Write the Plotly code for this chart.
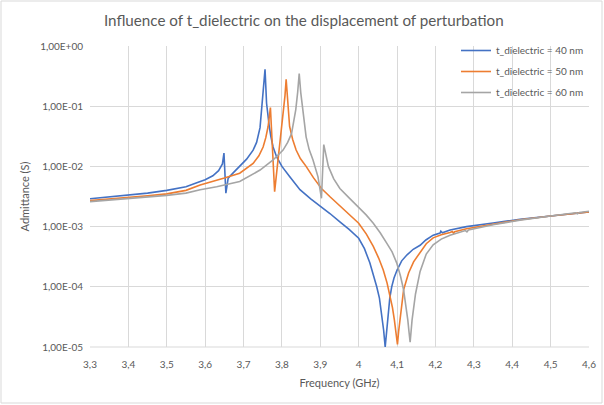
import plotly.graph_objects as go

# ---------------- data ----------------
freq_40 = [3.30, 3.35, 3.40, 3.45, 3.50, 3.55, 3.58, 3.60, 3.62, 3.635, 3.645, 3.649,
           3.654, 3.660, 3.673, 3.690, 3.708, 3.725, 3.734, 3.743, 3.749, 3.753, 3.756,
           3.760, 3.763, 3.767, 3.771, 3.777, 3.786, 3.800, 3.820, 3.847, 3.875, 3.903,
           3.925, 3.951, 3.975, 4.000, 4.015, 4.029, 4.038, 4.047, 4.054, 4.060, 4.065,
           4.069, 4.073, 4.077, 4.081, 4.086, 4.092, 4.100, 4.112, 4.126, 4.142, 4.160,
           4.175, 4.194, 4.212, 4.214, 4.218, 4.238, 4.281, 4.35, 4.42, 4.50, 4.55, 4.60]
adm_40 = [2.9e-3, 3.1e-3, 3.3e-3, 3.6e-3, 4.0e-3, 4.6e-3, 5.4e-3, 6.0e-3, 7.0e-3, 8.5e-3,
          0.011, 0.0166, 3.6e-3, 6.4e-3, 7.8e-3, 0.010, 0.0132, 0.0186, 0.025, 0.044,
          0.112, 0.22, 0.41, 0.112, 0.07, 0.046, 0.032, 0.021, 0.0145, 0.010, 6.8e-3,
          4.1e-3, 2.9e-3, 2.14e-3, 1.65e-3, 1.2e-3, 9.0e-4, 6.4e-4, 4.3e-4, 2.5e-4,
          1.6e-4, 1.0e-4, 6.5e-5, 3.6e-5, 1.9e-5, 1.0e-5, 2.0e-5, 3.6e-5, 6.5e-5, 1.0e-4,
          1.4e-4, 1.9e-4, 2.7e-4, 3.4e-4, 4.2e-4, 4.9e-4, 6.0e-4, 7.2e-4, 7.8e-4, 8.4e-4,
          7.9e-4, 8.8e-4, 1.0e-3, 1.15e-3, 1.32e-3, 1.5e-3, 1.62e-3, 1.75e-3]

freq_50 = [3.30, 3.35, 3.40, 3.45, 3.50, 3.55, 3.587, 3.62, 3.65, 3.690, 3.725, 3.740,
           3.751, 3.758, 3.764, 3.770, 3.775, 3.781, 3.788, 3.795, 3.800, 3.805, 3.808,
           3.811, 3.815, 3.820, 3.828, 3.837, 3.848, 3.863, 3.882, 3.903, 3.926, 3.951,
           3.975, 4.000, 4.020, 4.038, 4.052, 4.064, 4.074, 4.082, 4.088, 4.093, 4.097,
           4.101, 4.104, 4.108, 4.112, 4.117, 4.123, 4.130, 4.143, 4.160, 4.176, 4.194,
           4.215, 4.238, 4.244, 4.247, 4.25, 4.281, 4.35, 4.42, 4.50, 4.55, 4.60]
adm_50 = [2.7e-3, 2.85e-3, 3.0e-3, 3.25e-3, 3.5e-3, 4.0e-3, 4.9e-3, 5.6e-3, 6.4e-3, 7.7e-3,
          0.0112, 0.015, 0.021, 0.03, 0.046, 0.095, 0.02, 3.8e-3, 0.010, 0.024, 0.045,
          0.087, 0.15, 0.28, 0.11, 0.046, 0.028, 0.0187, 0.0135, 0.010, 6.5e-3, 4.3e-3,
          3.1e-3, 2.2e-3, 1.6e-3, 1.14e-3, 7.5e-4, 4.7e-4, 3.0e-4, 1.9e-4, 1.15e-4, 6.9e-5,
          4.5e-5, 2.8e-5, 1.8e-5, 1.1e-5, 1.8e-5, 2.8e-5, 5.0e-5, 8.9e-5, 1.2e-4, 1.7e-4,
          2.6e-4, 3.8e-4, 5.2e-4, 6.5e-4, 7.3e-4, 8.0e-4, 8.3e-4, 7.8e-4, 8.2e-4, 9.2e-4,
          1.1e-3, 1.3e-3, 1.5e-3, 1.62e-3, 1.75e-3]

freq_60 = [3.30, 3.35, 3.40, 3.45, 3.50, 3.55, 3.587, 3.63, 3.690, 3.743, 3.777, 3.803,
           3.815, 3.825, 3.831, 3.836, 3.841, 3.845, 3.849, 3.854, 3.863, 3.871, 3.881,
           3.894, 3.903, 3.909, 3.921, 3.935, 3.951, 3.975, 4.000, 4.020, 4.038, 4.056,
           4.073, 4.087, 4.099, 4.109, 4.117, 4.123, 4.128, 4.131, 4.134, 4.139, 4.148,
           4.160, 4.176, 4.194, 4.215, 4.238, 4.278, 4.282, 4.286, 4.35, 4.42, 4.50, 4.55,
           4.565, 4.57, 4.575, 4.60]
adm_60 = [2.6e-3, 2.75e-3, 2.9e-3, 3.1e-3, 3.3e-3, 3.6e-3, 4.1e-3, 4.6e-3, 5.6e-3, 8.7e-3,
          0.0128, 0.0187, 0.025, 0.035, 0.055, 0.087, 0.17, 0.35, 0.17, 0.087, 0.031, 0.019,
          0.0128, 6.7e-3, 2.95e-3, 0.023, 0.010, 6.2e-3, 4.3e-3, 3.0e-3, 2.1e-3, 1.55e-3,
          1.14e-3, 7.9e-4, 5.3e-4, 3.8e-4, 2.5e-4, 1.5e-4, 8.9e-5, 5.0e-5, 2.8e-5, 1.8e-5,
          1.2e-5, 2.8e-5, 7.6e-5, 1.8e-4, 3.5e-4, 5.0e-4, 6.2e-4, 7.2e-4, 8.6e-4, 8.2e-4,
          8.8e-4, 1.07e-3, 1.28e-3, 1.5e-3, 1.65e-3, 1.7e-3, 1.63e-3, 1.72e-3, 1.8e-3]

series_names = ["t_dielectric = 40 nm", "t_dielectric = 50 nm", "t_dielectric = 60 nm"]
series_colors = ["#4472C4", "#ED7D31", "#A5A5A5"]

x_tick_vals = [3.3, 3.4, 3.5, 3.6, 3.7, 3.8, 3.9, 4.0, 4.1, 4.2, 4.3, 4.4, 4.5, 4.6]
x_tick_text = ["3,3", "3,4", "3,5", "3,6", "3,7", "3,8", "3,9", "4", "4,1", "4,2",
               "4,3", "4,4", "4,5", "4,6"]
y_tick_vals = [1e-5, 1e-4, 1e-3, 1e-2, 1e-1, 1e0]
y_tick_text = ["1,00E-05", "1,00E-04", "1,00E-03", "1,00E-02", "1,00E-01", "1,00E+00"]

title_text = "Influence of t_dielectric on the displacement of perturbation"
x_title = "Frequency (GHz)"
y_title = "Admittance (S)"

# ---------------- figure ----------------
FONT = "Lato, 'Liberation Sans', sans-serif"
TXT = "#595959"
GRID = "#D9D9D9"

W, H = 604, 405
L, R, T, B = 90, 15, 46, 58
pw, ph = W - L - R, H - T - B

legend_ids = ["legend", "legend2", "legend3"]
legend_item_px = [53, 74, 95]   # vertical centre of each legend entry (pixels)

fig = go.Figure()
for fx, fy, name, col, lid in zip([freq_40, freq_50, freq_60],
                                  [adm_40, adm_50, adm_60],
                                  series_names, series_colors, legend_ids):
    fig.add_trace(go.Scatter(x=fx, y=fy, mode="lines", name=name, legend=lid,
                             line=dict(color=col, width=1.6)))

legend_layout = {}
for lid, cy in zip(legend_ids, legend_item_px):
    top_px = cy - 17
    legend_layout[lid] = dict(x=1, xanchor="right", y=1 - (top_px - T) / ph,
                              yanchor="top", bgcolor="rgba(0,0,0,0)",
                              font=dict(size=10, color=TXT, family=FONT), itemwidth=30)

fig.update_layout(
    width=W, height=H,
    margin=dict(l=L, r=R, t=T, b=B, autoexpand=False),
    paper_bgcolor="white", plot_bgcolor="white",
    font=dict(family=FONT, color=TXT, size=10),
    title=dict(text=title_text, font=dict(size=15.2, color=TXT, family=FONT),
               x=0.503, xref="container", xanchor="center",
               y=1 - 21 / H, yref="container", yanchor="middle"),
    showlegend=True,
    **legend_layout,
)

fig.update_xaxes(range=[3.3, 4.6], tickvals=x_tick_vals, ticktext=x_tick_text,
                 showgrid=True, gridcolor=GRID, gridwidth=1, zeroline=False,
                 showline=False, ticks="", ticklabelstandoff=10,
                 title=dict(text=x_title, font=dict(size=11, color=TXT), standoff=10),
                 tickfont=dict(size=10, color=TXT))
fig.update_yaxes(type="log", range=[-5, 0], tickvals=y_tick_vals, ticktext=y_tick_text,
                 showgrid=True, gridcolor=GRID, gridwidth=1, zeroline=False,
                 showline=False, ticks="", ticklabelstandoff=6,
                 title=dict(text=y_title, font=dict(size=11, color=TXT), standoff=8),
                 tickfont=dict(size=10, color=TXT))

# bottom plot border
fig.add_shape(type="line", xref="paper", yref="paper", x0=0, x1=1, y0=0, y1=0,
              line=dict(color=GRID, width=1), layer="below")
# outer chart border
fig.add_shape(type="rect", xref="paper", yref="paper",
              x0=-(L - 1) / pw, x1=1 + (R - 2) / pw,
              y0=-(B - 2) / ph, y1=1 + (T - 1) / ph,
              line=dict(color="#D9D9D9", width=1), fillcolor="rgba(0,0,0,0)")

fig.write_html("out.html")
